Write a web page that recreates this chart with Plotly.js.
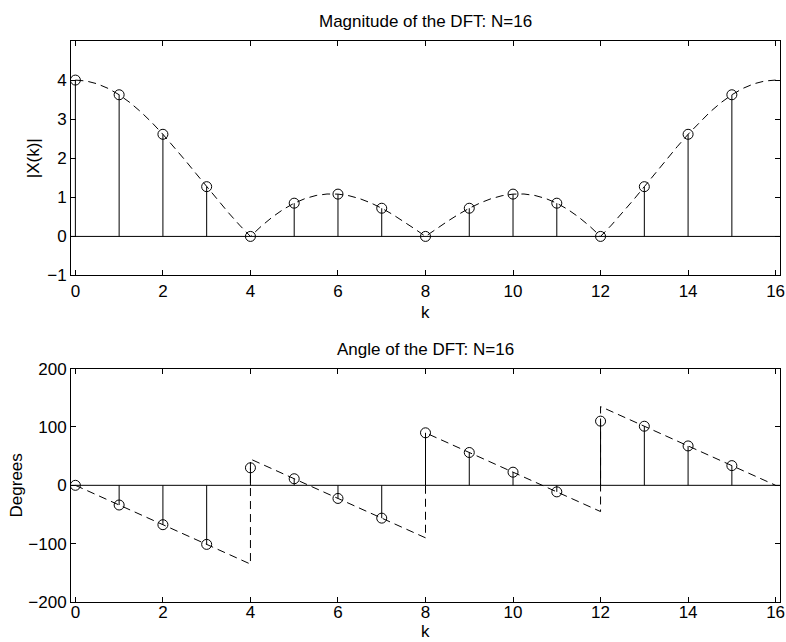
<!DOCTYPE html>
<html>
<head>
<meta charset="utf-8">
<script src="https://cdn.plot.ly/plotly-3.0.1.min.js"></script>
<style>html,body{margin:0;padding:0;background:#fff;}#chart{width:786px;height:642px;}</style>
</head>
<body>
<div id="chart"></div>
<script>
// ---- data ----
var k = [0,1,2,3,4,5,6,7,8,9,10,11,12,13,14,15];
var magnitude = [4, 3.6245, 2.6131, 1.2728, 0, 0.8504, 1.0824, 0.7210, 0, 0.7210, 1.0824, 0.8504, 0, 1.2728, 2.6131, 3.6245];
var angleDeg = [0, -33.75, -67.5, -101.25, 30, 11.25, -22.5, -56.25, 90, 56.25, 22.5, -11.25, 110, 101.25, 67.5, 33.75];

var kCurve = [0,0.25,0.5,0.75,1,1.25,1.5,1.75,2,2.25,2.5,2.75,3,3.25,3.5,3.75,4,4.25,4.5,4.75,5,5.25,5.5,5.75,6,6.25,6.5,6.75,7,7.25,7.5,7.75,8,
  8.25,8.5,8.75,9,9.25,9.5,9.75,10,10.25,10.5,10.75,11,11.25,11.5,11.75,12,12.25,12.5,12.75,13,13.25,13.5,13.75,14,14.25,14.5,14.75,15,15.25,15.5,15.75,16];
var magCurve = [4,3.9759,3.9042,3.7863,3.6245,3.4220,3.1827,2.9113,2.6131,2.2939,1.9599,1.6173,1.2728,0.9326,0.6032,0.2905,0,
  0.2633,0.4951,0.6917,0.8504,0.9694,1.0476,1.0850,1.0824,1.0417,0.9655,0.8572,0.7210,0.5616,0.3845,0.1953,0,
  0.1953,0.3845,0.5616,0.7210,0.8572,0.9655,1.0417,1.0824,1.0850,1.0476,0.9694,0.8504,0.6917,0.4951,0.2633,0,
  0.2905,0.6032,0.9326,1.2728,1.6173,1.9599,2.2939,2.6131,2.9113,3.1827,3.4220,3.6245,3.7863,3.9042,3.9759,4];

var kPhaseCurve = [0, 4, 4, 8, 8, 12, 12, 16];
var phaseCurve = [0, -135, 45, -90, 90, -45, 135, 0];

var xTicks = [0,2,4,6,8,10,12,14,16];
var magTicks = [-1,0,1,2,3,4];
var angTicks = [-200,-100,0,100,200];

var titleTop = 'Magnitude of the DFT: N=16';
var titleBottom = 'Angle of the DFT: N=16';
var xLabel = 'k';
var yLabelTop = '|X(k)|';
var yLabelBottom = 'Degrees';

// ---- build stems ----
function stems(xs, ys) {
  var sx = [], sy = [];
  for (var i = 0; i < xs.length; i++) { sx.push(xs[i], xs[i], null); sy.push(0, ys[i], null); }
  return {x: sx, y: sy};
}
var s1 = stems(k, magnitude), s2 = stems(k, angleDeg);

var FONT = 'Liberation Sans, Arial, Helvetica, sans-serif';
var FS = 17;
var dashStyle = '8px,5px';
var txtFont = {family: FONT, size: FS, color: '#000'};

var traces = [
  {x: kCurve, y: magCurve, xaxis: 'x', yaxis: 'y', mode: 'lines', line: {color: '#000', width: 1, dash: dashStyle}, hoverinfo: 'skip'},
  {x: s1.x, y: s1.y, xaxis: 'x', yaxis: 'y', mode: 'lines', line: {color: '#000', width: 1}, hoverinfo: 'skip'},
  {x: k, y: magnitude, xaxis: 'x', yaxis: 'y', mode: 'markers', marker: {symbol: 'circle-open', size: 10, color: '#000', line: {width: 1, color: '#000'}}},
  {x: kPhaseCurve, y: phaseCurve, xaxis: 'x2', yaxis: 'y2', mode: 'lines', line: {color: '#000', width: 1, dash: dashStyle}, hoverinfo: 'skip'},
  {x: s2.x, y: s2.y, xaxis: 'x2', yaxis: 'y2', mode: 'lines', line: {color: '#000', width: 1}, hoverinfo: 'skip'},
  {x: k, y: angleDeg, xaxis: 'x2', yaxis: 'y2', mode: 'markers', marker: {symbol: 'circle-open', size: 10, color: '#000', line: {width: 1, color: '#000'}}}
];

function axisBase(extra) {
  var a = {showline: true, linecolor: '#000', linewidth: 1, mirror: 'allticks', ticks: 'inside', ticklen: 5,
    tickcolor: '#000', showgrid: false, zeroline: false, tickfont: txtFont, fixedrange: true};
  for (var key in extra) a[key] = extra[key];
  return a;
}

var layout = {
  width: 786, height: 642,
  margin: {l: 71, r: 6, t: 41, b: 40},
  paper_bgcolor: '#fff', plot_bgcolor: '#fff',
  showlegend: false,
  font: txtFont,
  xaxis: axisBase({anchor: 'y', domain: [0, 1], range: [-0.1, 16.1], tickvals: xTicks}),
  yaxis: axisBase({anchor: 'x', domain: [0.582, 1], range: [-1, 5], tickvals: magTicks,
    title: {text: yLabelTop, font: txtFont, standoff: 3}}),
  xaxis2: axisBase({anchor: 'y2', domain: [0, 1], range: [-0.1, 16.1], tickvals: xTicks, ticklabelstandoff: -5}),
  yaxis2: axisBase({anchor: 'x2', domain: [0, 0.416], range: [-200, 200], tickvals: angTicks,
    title: {text: yLabelBottom, font: txtFont, standoff: 1}}),
  shapes: [
    {type: 'line', xref: 'x domain', yref: 'y', x0: 0, x1: 1, y0: 0, y1: 0, line: {color: '#000', width: 1}},
    {type: 'line', xref: 'x2 domain', yref: 'y2', x0: 0, x1: 1, y0: 0, y1: 0, line: {color: '#000', width: 1}}
  ],
  annotations: [
    {text: titleTop, xref: 'x domain', yref: 'y domain', x: 0.5, y: 1, yshift: 8,
     xanchor: 'center', yanchor: 'bottom', showarrow: false, font: txtFont},
    {text: titleBottom, xref: 'x2 domain', yref: 'y2 domain', x: 0.5, y: 1, yshift: 8,
     xanchor: 'center', yanchor: 'bottom', showarrow: false, font: txtFont},
    {text: xLabel, xref: 'x domain', yref: 'y domain', x: 0.5, y: 0, yshift: -37,
     xanchor: 'center', yanchor: 'middle', showarrow: false, font: txtFont},
    {text: xLabel, xref: 'x2 domain', yref: 'y2 domain', x: 0.5, y: 0, yshift: -40,
     xanchor: 'center', yanchor: 'bottom', borderpad: 0, showarrow: false, font: txtFont}
  ]
};

Plotly.newPlot('chart', traces, layout, {displayModeBar: false, staticPlot: true});
</script>
</body>
</html>
